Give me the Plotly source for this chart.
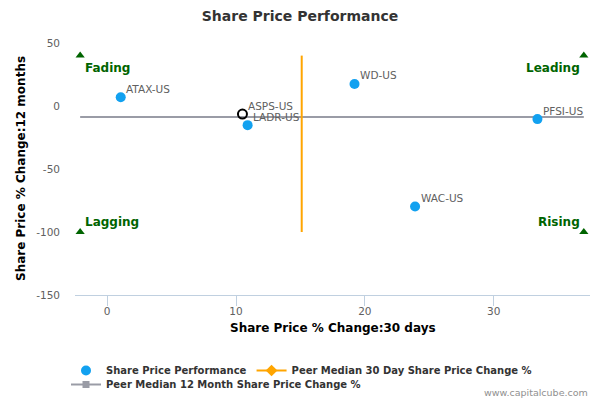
import plotly.graph_objects as go

# ---- data ----
companies = ["ATAX-US", "LADR-US", "WD-US", "PFSI-US", "WAC-US"]
change_30d = [1.05, 10.9, 19.2, 33.4, 23.9]
change_12m = [6.9, -15.2, 17.5, -10.4, -79.7]

focus_name = ["ASPS-US"]
focus_30d = [10.5]
focus_12m = [-6.4]

peer_median_30d = 15.1
peer_median_12m = -8.8
median_30d_line_y = [40, -100]
median_12m_line_x = [-2.1, 37.0]

quad_x = [-2.1, 37.0, -2.1, 37.0]
quad_y = [40, 40, -100, -100]
quad_names = ["Fading", "Leading", "Lagging", "Rising"]

x_ticks = [0, 10, 20, 30]
y_ticks = [-150, -100, -50, 0, 50]
y_tick_labels = ["-150", "-100", "-50", "0", "50"]

FONT = "DejaVu Sans"
BLUE = "#12a1f0"
ORANGE = "#ffa500"
GREY = "#9a9ca6"
GREEN = "#006400"

fig = go.Figure()

# peer median 12 month line (horizontal)
fig.add_trace(go.Scatter(
    x=median_12m_line_x, y=[peer_median_12m] * len(median_12m_line_x),
    mode="lines", line=dict(color=GREY, width=2),
    showlegend=False, hoverinfo="skip"))
# peer median 30 day line (vertical)
fig.add_trace(go.Scatter(
    x=[peer_median_30d] * len(median_30d_line_y), y=median_30d_line_y,
    mode="lines", line=dict(color=ORANGE, width=2),
    showlegend=False, hoverinfo="skip"))

# quadrant markers
fig.add_trace(go.Scatter(
    x=quad_x, y=quad_y, mode="markers",
    marker=dict(symbol="triangle-up", size=8, color=GREEN),
    showlegend=False, hoverinfo="skip"))

# peers
fig.add_trace(go.Scatter(
    x=change_30d, y=change_12m, mode="markers", text=companies,
    marker=dict(size=10, color=BLUE),
    name="Share Price Performance", legend="legend"))

# focus company
fig.add_trace(go.Scatter(
    x=focus_30d, y=focus_12m, mode="markers", text=focus_name,
    marker=dict(symbol="circle-open", size=9, color="#000000", line=dict(width=2)),
    showlegend=False))

# legend entries for the median lines
fig.add_trace(go.Scatter(
    x=[None], y=[None], mode="lines+markers",
    line=dict(color=ORANGE, width=2),
    marker=dict(symbol="diamond", size=9, color=ORANGE),
    name="Peer Median 30 Day Share Price Change %", legend="legend"))
fig.add_trace(go.Scatter(
    x=[None], y=[None], mode="lines+markers",
    line=dict(color=GREY, width=2),
    marker=dict(symbol="square", size=7, color=GREY),
    name="Peer Median 12 Month Share Price Change %", legend="legend2"))

ann = []
# data labels
for name, xv, yv in zip(companies + focus_name, change_30d + focus_30d, change_12m + focus_12m):
    ann.append(dict(
        x=xv, y=yv, xref="x", yref="y", text=name, showarrow=False,
        xanchor="left", yanchor="middle", xshift=3.5, yshift=8.5,
        font=dict(family=FONT, size=10.5, color="#606060")))

# quadrant labels
for name, xv, yv in zip(quad_names, quad_x, quad_y):
    left = xv < 0
    top = yv > 0
    ann.append(dict(
        x=xv, y=yv, xref="x", yref="y", text=name, showarrow=False,
        xanchor="left" if left else "right",
        xshift=3 if left else -2,
        yshift=-12 if top else 10,
        yanchor="middle",
        font=dict(family=FONT, size=12, color=GREEN, weight="bold")))

ann.append(dict(x=0.5, y=0, xref="paper", yref="paper", yshift=-33,
                text="Share Price % Change:30 days", showarrow=False,
                xanchor="center", yanchor="middle",
                font=dict(family=FONT, size=12, color="#000000", weight="bold")))
ann.append(dict(x=0, y=0.5, xref="paper", yref="paper", xshift=-54,
                text="Share Price % Change:12 months", showarrow=False, textangle=-90,
                xanchor="center", yanchor="middle",
                font=dict(family=FONT, size=12, color="#000000", weight="bold")))
ann.append(dict(x=1, y=0, xref="paper", yref="paper", yshift=-97,
                text="www.capitalcube.com", showarrow=False,
                xanchor="right", yanchor="middle",
                font=dict(family=FONT, size=9.5, color="#909090")))

legend_font = dict(family=FONT, size=10, color="#333333", weight="bold")

fig.update_layout(
    width=600, height=400,
    margin=dict(l=75, r=10, t=43, b=105, autoexpand=False),
    paper_bgcolor="white", plot_bgcolor="white",
    title=dict(text="Share Price Performance", x=0.5, xref="container",
               y=1 - 15.7 / 400, yanchor="middle",
               font=dict(family=FONT, size=14, color="#333333", weight="bold")),
    xaxis=dict(range=[-2.5, 37.48], tickvals=x_ticks, showgrid=False, zeroline=False,
               showline=True, linecolor="#C0D0E0", linewidth=1,
               ticks="outside", ticklen=10, tickcolor="#C0D0E0", ticklabelstandoff=-4,
               tickfont=dict(family=FONT, size=10.5, color="#606060")),
    yaxis=dict(range=[-150, 50], tickvals=y_ticks, ticktext=y_tick_labels,
               showgrid=False, zeroline=False,
               showline=False, ticks="", ticklabelstandoff=14,
               tickfont=dict(family=FONT, size=10.5, color="#606060")),
    legend=dict(orientation="h", xref="container", x=0.11, xanchor="left",
                yref="container", y=1 - 356 / 400, yanchor="top",
                font=legend_font, bgcolor="rgba(0,0,0,0)"),
    legend2=dict(orientation="h", xref="container", x=0.11, xanchor="left",
                 yref="container", y=1 - 370 / 400, yanchor="top",
                 font=legend_font, bgcolor="rgba(0,0,0,0)"),
    annotations=ann,
    showlegend=True,
)

fig.write_html("out.html", config={"displayModeBar": False},
               post_script="document.body.style.margin='0px';")
